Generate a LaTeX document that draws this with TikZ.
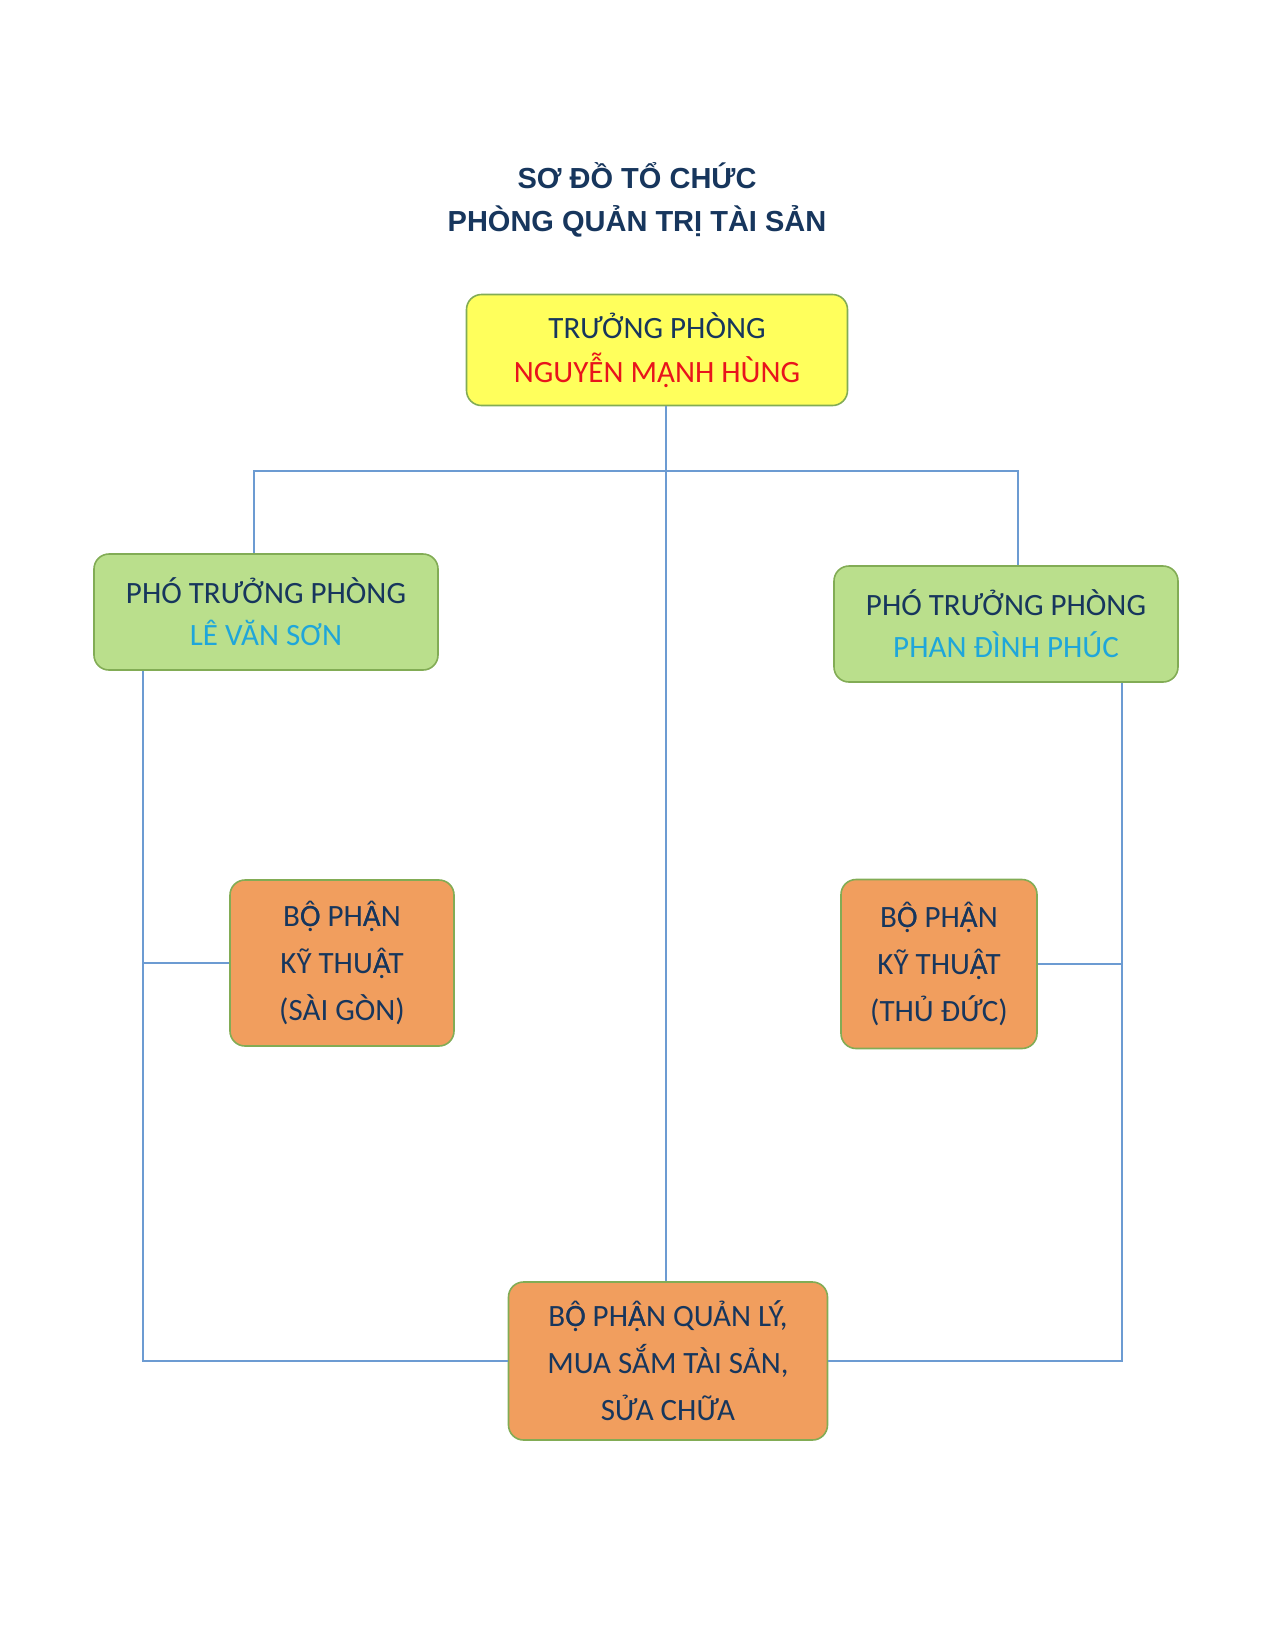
\documentclass[tikz,border=0pt]{standalone}
\usepackage{fontspec}
\setmainfont{Carlito}
\newfontfamily\titlefont{Liberation Sans}
\usepackage{xcolor}
\usepackage{tikz}
\usetikzlibrary{positioning, calc}
\definecolor{navytext}{HTML}{17365D}
\definecolor{headred}{HTML}{E8141C}
\definecolor{vicecyan}{HTML}{1FA6DA}
\definecolor{headyellow}{HTML}{FFFF5C}
\definecolor{vicegreen}{HTML}{BADF8C}
\definecolor{unitorange}{HTML}{F19E5E}
\definecolor{boxedge}{HTML}{82AC55}
\definecolor{linkblue}{HTML}{6C9BD2}
% Carlito has no O/A with circumflex and dot below
\newcommand{\Ohd}{\makebox[0pt][l]{Ọ}Ô}
\newcommand{\Ahd}{\makebox[0pt][l]{Ạ}Â}

\tikzset{
  orgbox/.style={draw=boxedge, line width=1.6pt, rounded corners=15pt,
                 align=center, inner sep=0pt, text=navytext,
                 font=\fontsize{31}{44}\selectfont},
  unitbox/.style={orgbox, fill=unitorange, font=\fontsize{31}{47}\selectfont},
  link/.style={draw=linkblue, line width=2.2pt}
}

\begin{document}
\begin{tikzpicture}[x=1pt, y=-1pt]
    \useasboundingbox (0,0) rectangle (1275,1650);
    \node[align=center, text=navytext, font=\titlefont\bfseries\fontsize{29}{43}\selectfont]
         (title) at (637,200) {SƠ ĐỒ TỔ CHỨC\\PHÒNG QUẢN TRỊ TÀI SẢN};

    \node[orgbox, fill=headyellow, minimum width=381pt, minimum height=111pt]
         (head) at (657,350) {TRƯỞNG PHÒNG\\\textcolor{headred}{NGUYỄN MẠNH HÙNG}};
    \node[orgbox, fill=vicegreen, minimum width=344pt, minimum height=116pt]
         (viceleft) at (266,612) {PHÓ TRƯỞNG PHÒNG\\[-2pt]\textcolor{vicecyan}{LÊ VĂN SƠN}};
    \node[orgbox, fill=vicegreen, minimum width=344pt, minimum height=116pt]
         (viceright) at (1006,624) {PHÓ TRƯỞNG PHÒNG\\[-2pt]\textcolor{vicecyan}{PHAN ĐÌNH PHÚC}};
    \node[unitbox, minimum width=224pt, minimum height=166pt]
         (techleft) at (342,963) {B\Ohd{} PH\Ahd N\\KỸ THU\Ahd T\\(SÀI GÒN)};
    \node[unitbox, minimum width=196pt, minimum height=169pt]
         (techright) at (939,964) {B\Ohd{} PH\Ahd N\\KỸ THU\Ahd T\\(THỦ ĐỨC)};
    \node[unitbox, minimum width=319pt, minimum height=158pt]
         (assets) at (668,1361) {B\Ohd{} PH\Ahd N QUẢN LÝ,\\MUA SẮM TÀI SẢN,\\SỬA CHỮA};

    \coordinate (spine) at (666,471);
    \coordinate (leftrail) at ([xshift=50pt]viceleft.south west);
    \coordinate (rightrail) at ([xshift=-57pt]viceright.south east);

    \draw[link] (head.south -| spine) -- (assets.north -| spine);
    \draw[link] ([xshift=-12pt]viceleft.north) |- (spine) -| ([xshift=12pt]viceright.north);
    \draw[link] (leftrail) |- (assets.west);
    \draw[link] (rightrail) |- (assets.east);
    \draw[link] (techleft.west) -- (techleft.west -| leftrail);
    \draw[link] (techright.east) -- (techright.east -| rightrail);
  \end{tikzpicture}
\end{document}
